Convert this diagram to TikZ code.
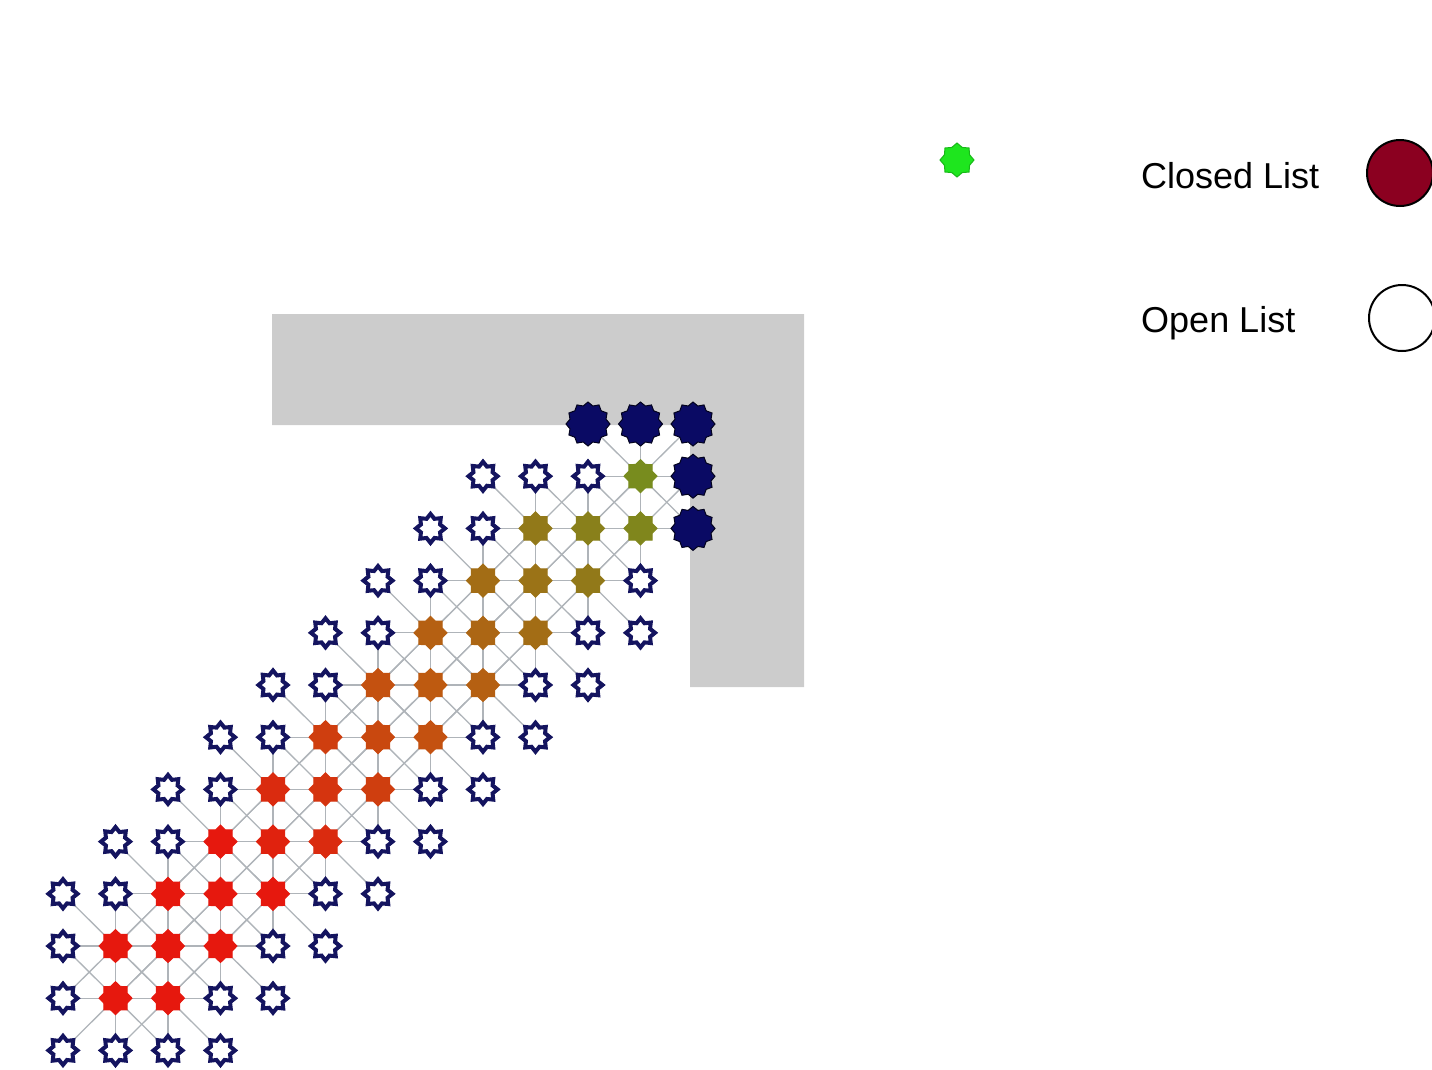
\documentclass[tikz,border=0pt]{standalone}
\usepackage{fontspec}
\setmainfont{Liberation Sans}
\usetikzlibrary{shapes.geometric}
\pgfdeclarelayer{background}
\pgfsetlayers{background,main}
\definecolor{navy}{RGB}{20,20,95}
\definecolor{wallblue}{RGB}{10,10,100}
\definecolor{cred}{RGB}{230,24,14}
\definecolor{cbrown}{RGB}{190,90,16}
\definecolor{colive}{RGB}{120,140,30}
\definecolor{obst}{RGB}{204,204,204}
\definecolor{closedred}{RGB}{139,0,32}
\definecolor{startgreen}{RGB}{30,230,30}
\definecolor{edgecol}{RGB}{175,180,185}
\tikzset{
  opennode/.style={star, star points=8, star point ratio=1.4, minimum size=29pt, inner sep=0pt, draw=navy, line width=4pt, fill=white},
  closednode/.style={star, star points=8, star point ratio=1.3, minimum size=33pt, inner sep=0pt, fill=#1, draw=#1, line width=1pt},
  wallnode/.style={star, star points=12, star point ratio=1.18, minimum size=44pt, inner sep=0pt, fill=wallblue, draw=black!70!wallblue, line width=1pt},
  startnode/.style={star, star points=8, star point ratio=1.25, minimum size=34pt, inner sep=0pt, fill=startgreen, draw=startgreen!80!black, line width=1pt},
  link/.style={draw=edgecol, line width=1.3pt},
  legendtxt/.style={font=\fontsize{36}{40}\selectfont, anchor=base west, inner sep=0pt},
  legendcirc/.style={circle, minimum size=66pt, draw=black, line width=2pt, inner sep=0pt},
}
\begin{document}
\begin{tikzpicture}[x=1pt,y=-1pt]
\useasboundingbox (0,0) rectangle (1432,1069);
\begin{pgfonlayer}{background}
  \fill[obst] (272,314) -- (804,314) -- (804,687) -- (690,687) -- (690,425) -- (272,425) -- cycle;
\end{pgfonlayer}
% wall-adjacent nodes
\foreach \r/\c in {0/10,0/11,0/12,1/12,2/12}
  \node[wallnode] (n-\r-\c) at ({63+52.5*\c},{424+52.2*\r}) {};
% open list
\foreach \r/\cs in {1/{8,9,10},2/{7,8},3/{6,7,11},4/{5,6,10,11},5/{4,5,9,10},6/{3,4,8,9},7/{2,3,7,8},8/{1,2,6,7},9/{0,1,5,6},10/{0,4,5},11/{0,3,4},12/{0,1,2,3}}
  \foreach \c in \cs
    \node[opennode] (n-\r-\c) at ({63+52.5*\c},{424+52.2*\r}) {};
% closed list
\foreach \r/\cs in {1/{11},2/{9,10,11},3/{8,9,10},4/{7,8,9},5/{6,7,8},6/{5,6,7},7/{4,5,6},8/{3,4,5},9/{2,3,4},10/{1,2,3},11/{1,2}}
  \foreach \c in \cs {
    \pgfmathtruncatemacro\sval{\c+12-\r}
    \ifnum\sval<7
      \colorlet{curcol}{cred}
    \else\ifnum\sval<14
      \pgfmathtruncatemacro\pval{100*(14-\sval)/7}
      \colorlet{curcol}{cred!\pval!cbrown}
    \else
      \pgfmathtruncatemacro\pval{100*(22-\sval)/8}
      \colorlet{curcol}{cbrown!\pval!colive}
    \fi\fi
    \node[closednode=curcol] (n-\r-\c) at ({63+52.5*\c},{424+52.2*\r}) {};
  }
% links from closed nodes to their neighbours
\begin{pgfonlayer}{background}
\foreach \r/\cs in {1/{11},2/{9,10,11},3/{8,9,10},4/{7,8,9},5/{6,7,8},6/{5,6,7},7/{4,5,6},8/{3,4,5},9/{2,3,4},10/{1,2,3},11/{1,2}}
  \foreach \c in \cs
    \foreach \dr/\dc in {-1/-1,-1/0,-1/1,0/-1,0/1,1/-1,1/0,1/1} {
      \pgfmathtruncatemacro\nrow{\r+\dr}
      \pgfmathtruncatemacro\ncol{\c+\dc}
      \ifcsname pgf@sh@ns@n-\nrow-\ncol\endcsname
        \draw[link] (n-\r-\c.center) -- (n-\nrow-\ncol.center);
      \fi
    }
\end{pgfonlayer}
% start node
\node[startnode] (start) at (957,160) {};
% legend
\node[legendtxt] (closedlbl) at (1141,188) {Closed List};
\node[legendcirc, fill=closedred] (closedkey) at (1400,173) {};
\node[legendtxt] (openlbl) at (1141,332) {Open List};
\node[legendcirc, fill=white] (openkey) at (1402,318) {};
\end{tikzpicture}
\end{document}
